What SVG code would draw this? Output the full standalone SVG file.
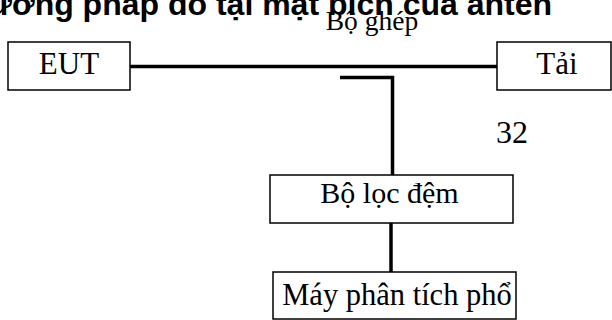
<svg xmlns="http://www.w3.org/2000/svg" width="612" height="320" viewBox="0 0 612 320">
<style>
.box{fill:#fff;stroke:#000;stroke-width:1.5}
.lbl{font-family:"Liberation Serif","Times New Roman",serif;fill:#000;text-anchor:middle}
.wire{stroke:#000;stroke-width:3.5;fill:none}
</style>
<rect width="612" height="320" fill="#fff"/>
<text x="552" y="15" font-family="'Liberation Sans',Arial,sans-serif" font-weight="bold" font-size="32" text-anchor="end">Phương pháp đo tại mặt bích của anten</text>
<text class="lbl" x="372" y="30" font-size="27.5">Bộ ghép</text>
<text class="lbl" x="512" y="143" font-size="32">32</text>
<g id="connectors">
<line class="wire" x1="130" y1="66.5" x2="497" y2="66.5"/>
<polyline class="wire" points="340,77.5 392.5,77.5 392.5,175"/>
<line class="wire" x1="391" y1="223" x2="391" y2="272"/>
</g>
<g id="eut">
<rect class="box" x="8" y="42" width="122" height="48"/>
<text class="lbl" x="69" y="74" font-size="31">EUT</text>
</g>
<g id="tai">
<rect class="box" x="497" y="42" width="114" height="48"/>
<text class="lbl" x="557" y="74" font-size="31">Tải</text>
</g>
<g id="boloc">
<rect class="box" x="270" y="175" width="243" height="48"/>
<text class="lbl" x="389.5" y="203" font-size="30">Bộ lọc đệm</text>
</g>
<g id="may">
<rect class="box" x="273" y="272" width="243" height="47"/>
<text class="lbl" x="397" y="305" font-size="30.5">Máy phân tích phổ</text>
</g>
</svg>
